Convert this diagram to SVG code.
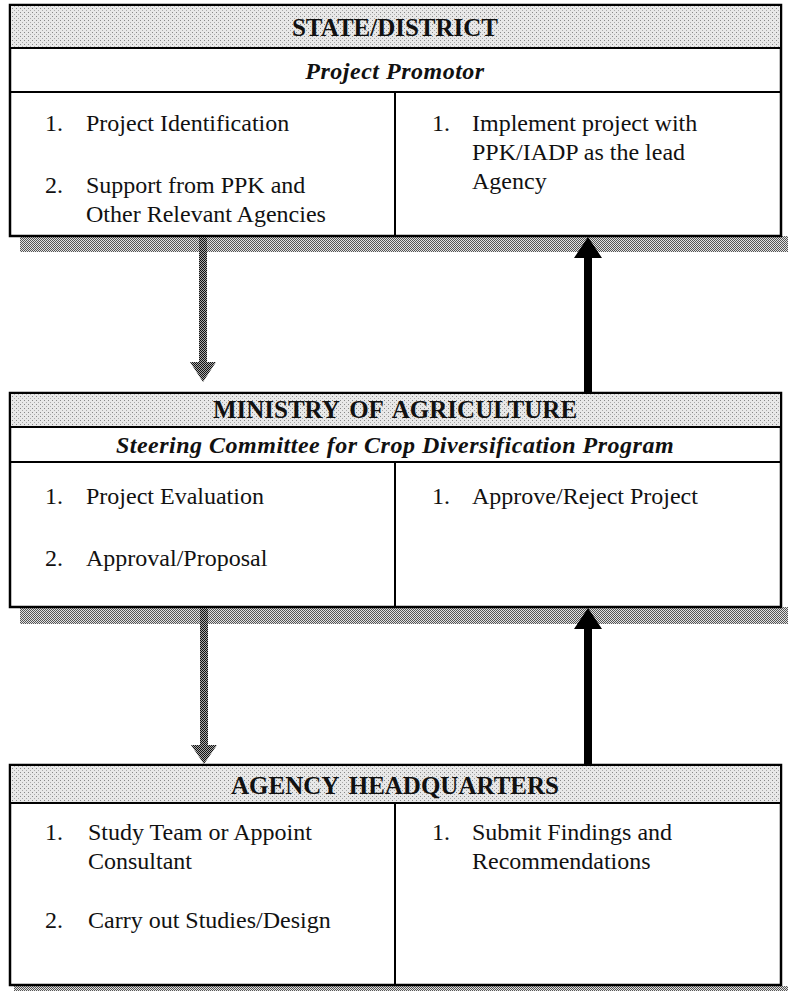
<svg xmlns="http://www.w3.org/2000/svg" width="788" height="991" viewBox="0 0 788 991">
<style>
.box{fill:#fff;stroke:#000;stroke-width:2.5}
.band{fill:url(#dots);stroke:#000;stroke-width:2}
.sh{fill:url(#shade)}
.ln{stroke:#000;stroke-width:2}
.t{font-family:"Liberation Serif","Times New Roman",serif;font-size:24px;fill:#111}
.h{font-family:"Liberation Serif","Times New Roman",serif;font-size:25px;font-weight:bold;fill:#111;text-anchor:middle;word-spacing:4px}
.s{font-family:"Liberation Serif","Times New Roman",serif;font-size:24px;font-weight:bold;font-style:italic;fill:#111;text-anchor:middle;letter-spacing:0.5px}
</style>
<defs>
<pattern id="dots" width="4" height="4" patternUnits="userSpaceOnUse"><rect width="4" height="4" fill="#e8e8e8"/><rect x="0" y="0" width="1" height="1" fill="#888"/><rect x="2" y="2" width="1" height="1" fill="#aaa"/></pattern>
<pattern id="shade" width="2" height="2" patternUnits="userSpaceOnUse"><rect width="2" height="2" fill="#e2e2e2"/><rect width="1" height="1" fill="#555"/><rect x="1" y="1" width="1" height="1" fill="#555"/></pattern>
<pattern id="stip" width="2" height="2" patternUnits="userSpaceOnUse"><rect width="2" height="2" fill="#aaa"/><rect width="1" height="1" fill="#111"/><rect x="1" y="1" width="1" height="1" fill="#111"/></pattern>
</defs>

<g id="state-district">
<rect class="sh" x="20" y="236" width="768" height="16"/>
<rect class="box" x="10" y="5" width="771" height="231"/>
<rect class="band" x="10" y="5" width="771" height="43"/>
<line class="ln" x1="10" y1="92" x2="781" y2="92"/>
<line class="ln" x1="395" y1="92" x2="395" y2="236"/>
<text class="h" x="395" y="36">STATE/DISTRICT</text>
<text class="s" x="395" y="79">Project Promotor</text>
<text class="t" x="45" y="131">1.</text><text class="t" x="86" y="131">Project Identification</text>
<text class="t" x="45" y="193">2.</text><text class="t" x="86" y="193">Support from PPK and</text>
<text class="t" x="86" y="222">Other Relevant Agencies</text>
<text class="t" x="432" y="131">1.</text><text class="t" x="472" y="131">Implement project with</text>
<text class="t" x="472" y="160">PPK/IADP as the lead</text>
<text class="t" x="472" y="189">Agency</text>
</g>

<g id="ministry">
<rect class="sh" x="20" y="607" width="768" height="17"/>
<rect class="box" x="10" y="393" width="771" height="214"/>
<rect class="band" x="10" y="393" width="771" height="34"/>
<line class="ln" x1="10" y1="462" x2="781" y2="462"/>
<line class="ln" x1="395" y1="462" x2="395" y2="607"/>
<text class="h" x="395" y="418">MINISTRY OF AGRICULTURE</text>
<text class="s" x="395" y="453">Steering Committee for Crop Diversification Program</text>
<text class="t" x="45" y="504">1.</text><text class="t" x="86" y="504">Project Evaluation</text>
<text class="t" x="45" y="566">2.</text><text class="t" x="86" y="566">Approval/Proposal</text>
<text class="t" x="432" y="504">1.</text><text class="t" x="472" y="504">Approve/Reject Project</text>
</g>

<g id="agency">
<rect class="sh" x="14" y="986" width="774" height="5"/>
<rect class="box" x="10" y="765" width="771" height="220"/>
<rect class="band" x="10" y="765" width="771" height="38"/>
<line class="ln" x1="395" y1="803" x2="395" y2="985"/>
<text class="h" x="395" y="794">AGENCY HEADQUARTERS</text>
<text class="t" x="45" y="840">1.</text><text class="t" x="88" y="840">Study Team or Appoint</text>
<text class="t" x="88" y="869">Consultant</text>
<text class="t" x="45" y="928">2.</text><text class="t" x="88" y="928">Carry out Studies/Design</text>
<text class="t" x="432" y="840">1.</text><text class="t" x="472" y="840">Submit Findings and</text>
<text class="t" x="472" y="869">Recommendations</text>
</g>

<g id="connectors">
<rect x="199" y="237" width="8" height="129" fill="url(#stip)"/>
<polygon points="190,362 216,362 203,382" fill="url(#stip)"/>
<rect x="584" y="254" width="8" height="139" fill="#000"/>
<polygon points="574,258 602,258 588,237" fill="#000"/>
<rect x="200" y="608" width="8" height="140" fill="url(#stip)"/>
<polygon points="191,745 217,745 204,764" fill="url(#stip)"/>
<rect x="584" y="625" width="8" height="140" fill="#000"/>
<polygon points="574,629 602,629 588,608" fill="#000"/>
</g>
</svg>
